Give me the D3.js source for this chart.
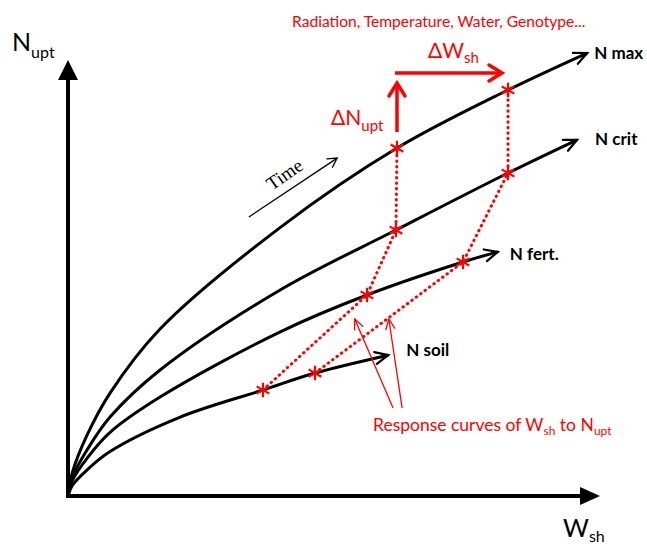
<!DOCTYPE html>
<html><head><meta charset="utf-8">
<script src="https://cdn.jsdelivr.net/npm/d3@7"></script>
<style>html,body{margin:0;padding:0;background:#fff;} svg{display:block;}</style>
</head><body>
<svg id="chart" width="647" height="544"></svg>
<script>
// ---- data (W_sh and N_upt in relative units, 0-100 = axis length) ----
const curveLabels = ["N max", "N crit", "N fert.", "N soil"];
const nMaxW  = [0, 0.8, 3.6, 7.9, 17.3, 39.8, 61.84, 82.71, 97.6];
const nMaxN  = [0, 5.3, 14.0, 23.6, 38.3, 61.5, 79.8, 93.12, 101.6];
const nCritW = [0, 0.8, 3.6, 7.9, 17.3, 39.8, 61.65, 82.71, 95.7];
const nCritN = [0, 4.3, 10.6, 18.1, 28.9, 47.2, 61.0, 74.08, 81.7];
const nFertW = [0, 0.8, 3.6, 7.9, 17.3, 39.8, 56.2, 74.25, 80.8];
const nFertN = [0, 3.5, 8.7, 14.6, 22.7, 37.6, 46.1, 53.67, 56.0];
const nSoilW = [0, 0.8, 3.6, 7.9, 21.1, 36.65, 46.43, 60.2];
const nSoilN = [0, 2.4, 6.0, 10.2, 18.1, 24.31, 28.2, 32.3];
// response curves of W_sh to N_upt (points on N soil, N fert., N crit, N max)
const respLowW  = [36.65, 56.2, 61.65, 61.84];
const respLowN  = [24.31, 46.1, 61.0, 79.8];
const respHighW = [46.43, 74.25, 82.71, 82.71];
const respHighN = [28.2, 53.67, 74.08, 93.12];
// pointer arrows (tail / tip) and time arrow
const pointerTailW = [61.1, 62.8], pointerTailN = [20.2, 20.2];
const pointerTipW  = [53.9, 60.3], pointerTipN  = [40.6, 40.6];
const timeArrowW = [34.0, 50.6], timeArrowN = [64.0, 77.5];
const titleText = "Radiation, Temperature, Water, Genotype...";

const red = "#ff0000";
const font = "Lato, 'Open Sans', sans-serif";
const zip = (a, b) => a.map((v, i) => [v, b[i]]);
const curves = [zip(nMaxW, nMaxN), zip(nCritW, nCritN), zip(nFertW, nFertN), zip(nSoilW, nSoilN)];
const resp = [zip(respLowW, respLowN), zip(respHighW, respHighN)];

const svg = d3.select("#chart");
const x = d3.scaleLinear().domain([0, 100]).range([68, 600]);
const y = d3.scaleLinear().domain([0, 100]).range([496, 60]);

const defs = svg.append("defs");
function chevron(id, color, w, len, half) {
  defs.append("marker").attr("id", id)
    .attr("markerUnits", "userSpaceOnUse").attr("viewBox", `${-len-4} ${-half-4} ${len+8} ${2*half+8}`)
    .attr("markerWidth", len + 8).attr("markerHeight", 2 * half + 8)
    .attr("refX", 0).attr("refY", 0).attr("orient", "auto").style("overflow", "visible")
    .append("path").attr("d", `M${-len},${-half}L0,0L${-len},${half}`)
    .attr("fill", "none").attr("stroke", color).attr("stroke-width", w)
    .attr("stroke-linejoin", "miter").attr("stroke-linecap", "round");
}
chevron("blk", "#000", 2.2, 13, 6);
chevron("thin", "#000", 1.3, 9, 5);
chevron("redthin", red, 1.3, 10, 4.5);
chevron("redthick", red, 3.5, 13, 8);

// axes
const gx = svg.append("g").attr("transform", `translate(0,${y(0)})`)
  .call(d3.axisBottom(x).tickValues([]).tickSizeOuter(0));
gx.select(".domain").attr("d", `M${x(0) - 2},0H${x(100) - 14}`).attr("stroke", "#000").attr("stroke-width", 4);
gx.append("path").attr("d", `M${x(100)},0L${x(100) - 20},-9L${x(100) - 20},9Z`).attr("fill", "#000");
const gy = svg.append("g").attr("transform", `translate(${x(0)},0)`)
  .call(d3.axisLeft(y).tickValues([]).tickSizeOuter(0));
gy.select(".domain").attr("d", `M0,${y(0) + 2}V${y(100) + 14}`).attr("stroke", "#000").attr("stroke-width", 4);
gy.append("path").attr("d", `M0,${y(100)}L-10,${y(100) + 20}L10,${y(100) + 20}Z`).attr("fill", "#000");

// N curves
const line = d3.line().x(d => x(d[0])).y(d => y(d[1])).curve(d3.curveCatmullRom.alpha(0.5));
svg.append("g").selectAll("path").data(curves).join("path")
  .attr("d", line).attr("fill", "none").attr("stroke", "#000").attr("stroke-width", 3)
  .attr("marker-end", "url(#blk)");

// response curves (dotted)
const rline = d3.line().x(d => x(d[0])).y(d => y(d[1]));
svg.append("g").selectAll("path").data(resp).join("path")
  .attr("d", rline).attr("fill", "none").attr("stroke", red).attr("stroke-width", 3)
  .attr("stroke-dasharray", "0.5 5").attr("stroke-linecap", "round");

// asterisks
svg.append("g").selectAll("path").data(resp.flat()).join("path")
  .attr("transform", d => `translate(${x(d[0])},${y(d[1])})`)
  .attr("d", d3.symbol(d3.symbolAsterisk, 150))
  .attr("fill", "none").attr("stroke", red).attr("stroke-width", 2.2);

// curve labels
const ends = curves.map(c => c[c.length - 1]);
const labelDx = [7, 18, 12, 18], labelDy = [6, 5, 8, 1];
svg.append("g").selectAll("text").data(curveLabels).join("text")
  .attr("x", (d, i) => x(ends[i][0]) + labelDx[i]).attr("y", (d, i) => y(ends[i][1]) + labelDy[i])
  .attr("font-family", font).attr("font-weight", "bold")
  .attr("font-size", 17).attr("fill", "#000").text(d => d);

// delta arrows
const aMax = resp[0][3], bMax = resp[1][3];
svg.append("line").attr("x1", x(aMax[0])).attr("x2", x(aMax[0]))
  .attr("y1", y(aMax[1]) - 16).attr("y2", 83)
  .attr("stroke", red).attr("stroke-width", 3.5).attr("marker-end", "url(#redthick)");
svg.append("line").attr("x1", x(aMax[0]) - 2).attr("x2", x(bMax[0]) - 6)
  .attr("y1", 73).attr("y2", 73)
  .attr("stroke", red).attr("stroke-width", 3.5).attr("marker-end", "url(#redthick)");

function subText(xp, yp, main, sub, size, subSize, color, dy) {
  const t = svg.append("text").attr("x", xp).attr("y", yp)
    .attr("font-family", font).attr("font-size", size).attr("fill", color);
  t.append("tspan").text(main);
  t.append("tspan").attr("font-size", subSize).attr("dy", dy).text(sub);
  return t;
}
subText(331, 125, "ΔN", "upt", 21, 15, red, 6);
subText(428, 58, "ΔW", "sh", 21, 15, red, 5);

// title
svg.append("text").attr("x", 292).attr("y", 27).attr("font-family", font)
  .attr("font-size", 15.6).attr("fill", red).text(titleText);

// response label
const rl = svg.append("text").attr("x", 373).attr("y", 431)
  .attr("font-family", font).attr("font-size", 17.5).attr("fill", red);
rl.append("tspan").text("Response curves of W");
rl.append("tspan").attr("font-size", 12).attr("dy", 4).text("sh");
rl.append("tspan").attr("dy", -4).text(" to N");
rl.append("tspan").attr("font-size", 12).attr("dy", 4).text("upt");

// pointer arrows
svg.append("g").selectAll("line").data(pointerTailW).join("line")
  .attr("x1", (d, i) => x(d)).attr("y1", (d, i) => y(pointerTailN[i]))
  .attr("x2", (d, i) => x(pointerTipW[i])).attr("y2", (d, i) => y(pointerTipN[i]))
  .attr("stroke", red).attr("stroke-width", 1.3).attr("marker-end", "url(#redthin)");

// time arrow
svg.append("line").attr("x1", x(timeArrowW[0])).attr("y1", y(timeArrowN[0]))
  .attr("x2", x(timeArrowW[1])).attr("y2", y(timeArrowN[1]))
  .attr("stroke", "#000").attr("stroke-width", 1.3).attr("marker-end", "url(#thin)");
svg.append("text").attr("transform", "translate(272,191) rotate(-35)")
  .attr("font-family", "'Liberation Serif', serif").attr("font-size", 19).attr("fill", "#000").text("Time");

// axis labels
subText(12, 51, "N", "upt", 25, 16, "#000", 7);
subText(563, 537, "W", "sh", 25, 16, "#000", 5);
</script>
</body></html>
